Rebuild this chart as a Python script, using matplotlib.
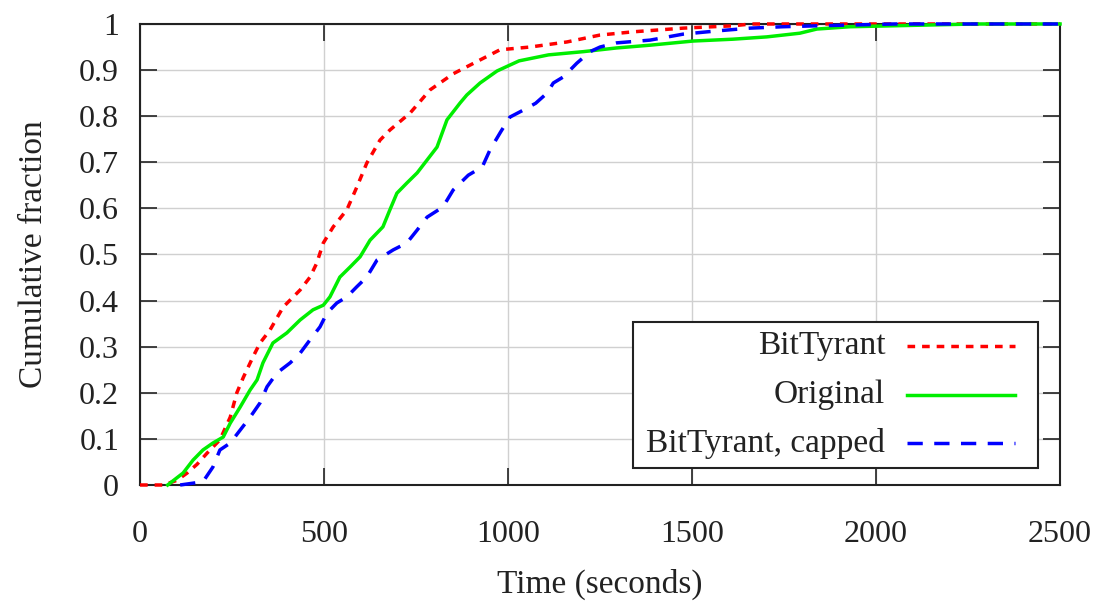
import matplotlib
matplotlib.use("Agg")
import matplotlib.pyplot as plt
from matplotlib.patches import Rectangle

plt.rcParams['font.family'] = ['Liberation Serif', 'DejaVu Serif']

# CDF of download completion time
bt_time = [0, 63, 100, 128, 155, 182, 217, 245, 263, 281, 307, 326, 353, 389, 435, 462, 480,
           498, 525, 562, 589, 616, 652, 679, 734, 788, 851, 924, 978, 1060, 1160, 1250,
           1340, 1476, 1611, 1660, 2500]
bt_frac = [0, 0, 0.01, 0.026, 0.045, 0.069, 0.098, 0.147, 0.2, 0.234, 0.278, 0.308, 0.336,
           0.386, 0.423, 0.451, 0.481, 0.525, 0.56, 0.597, 0.646, 0.698, 0.748, 0.77, 0.807,
           0.857, 0.892, 0.922, 0.944, 0.95, 0.961, 0.976, 0.983, 0.991, 0.996, 1.0, 1.0]

orig_time = [75, 117, 144, 171, 198, 226, 245, 272, 299, 318, 334, 361, 399, 435, 470, 498,
             516, 543, 571, 598, 625, 660, 679, 698, 725, 753, 780, 807, 834, 870, 888, 924,
             970, 1030, 1110, 1205, 1295, 1386, 1503, 1611, 1703, 1793, 1839, 1929, 2100,
             2270, 2500]
orig_frac = [0, 0.026, 0.054, 0.076, 0.091, 0.104, 0.134, 0.169, 0.206, 0.228, 0.265, 0.308,
             0.33, 0.358, 0.38, 0.39, 0.408, 0.451, 0.473, 0.495, 0.531, 0.56, 0.597, 0.633,
             0.655, 0.677, 0.705, 0.733, 0.792, 0.829, 0.846, 0.872, 0.898, 0.92, 0.933, 0.94,
             0.948, 0.954, 0.963, 0.967, 0.972, 0.98, 0.989, 0.994, 0.997, 1.0, 1.0]

cap_time = [109, 171, 198, 217, 245, 272, 299, 326, 345, 372, 408, 435, 462, 489, 508, 535,
            562, 589, 616, 644, 688, 725, 753, 780, 823, 851, 892, 930, 951, 980, 1005, 1041,
            1075, 1106, 1123, 1150, 1187, 1223, 1250, 1295, 1386, 1476, 1568, 1658, 1747,
            1839, 2050, 2500]
cap_frac = [0, 0.007, 0.039, 0.076, 0.091, 0.119, 0.147, 0.178, 0.213, 0.243, 0.265, 0.286,
            0.315, 0.343, 0.373, 0.395, 0.408, 0.43, 0.451, 0.488, 0.51, 0.525, 0.553, 0.581,
            0.603, 0.64, 0.672, 0.69, 0.727, 0.766, 0.798, 0.813, 0.828, 0.85, 0.872, 0.885,
            0.915, 0.94, 0.95, 0.959, 0.965, 0.978, 0.985, 0.991, 0.994, 0.996, 1.0, 1.0]

labels = ['BitTyrant', 'Original', 'BitTyrant, capped']
x_ticks = [0, 500, 1000, 1500, 2000, 2500]
y_ticks = [0, 0.1, 0.2, 0.3, 0.4, 0.5, 0.6, 0.7, 0.8, 0.9, 1]
y_tick_labels = ['0', '0.1', '0.2', '0.3', '0.4', '0.5', '0.6', '0.7', '0.8', '0.9', '1']

fig = plt.figure(figsize=(11.01, 6.07), dpi=100)
ax = fig.add_axes([0.1272, 0.201, 0.8356, 0.7595])

LW = 2.5
styles = [
    dict(color='#ff0000', linestyle=(0, (2.2, 2.0))),
    dict(color='#00ee00', linestyle='-'),
    dict(color='#0000ff', linestyle=(0, (4.4, 3.3))),
]
series = [(bt_time, bt_frac), (orig_time, orig_frac), (cap_time, cap_frac)]
for (t, f), st in zip(series, styles):
    ax.plot(t, f, linewidth=LW, clip_on=False, zorder=3, **st)

ax.set_xlim(0, 2500)
ax.set_ylim(0, 1)
ax.set_xticks(x_ticks)
ax.set_yticks(y_ticks)
ax.set_yticklabels(y_tick_labels)
ax.grid(True, color='#d0d0d0', linewidth=1.0)
ax.set_axisbelow(True)
ax.tick_params(direction='in', length=12, width=1.2, top=True, right=True,
               labelsize=23, colors='#222222')
ax.tick_params(axis='x', pad=25)
ax.tick_params(axis='y', pad=15)
for sp in ax.spines.values():
    sp.set_linewidth(1.5)
    sp.set_color('#222222')

ax.set_xlabel('Time (seconds)', fontsize=24, color='#222222')
ax.set_ylabel('Cumulative fraction', fontsize=24, color='#222222')
ax.xaxis.set_label_coords(0.5, -0.182)
ax.yaxis.set_label_coords(-0.099, 0.5)

# legend box drawn by hand, gnuplot style (text right aligned, sample to the right)
ax.add_patch(Rectangle((0.536, 0.037), 0.44, 0.317, transform=ax.transAxes,
                       facecolor='white', edgecolor='#222222', linewidth=1.5, zorder=5))
rows = [0.302, 0.195, 0.091]
for lab, st, yy in zip(labels, styles, rows):
    ax.text(0.810, yy, lab, transform=ax.transAxes, ha='right', va='center',
            fontsize=24, color='#222222', zorder=6)
    ax.plot([0.834, 0.951], [yy, yy], transform=ax.transAxes, linewidth=LW,
            zorder=6, **st)

fig.savefig('out.png', dpi=100)
